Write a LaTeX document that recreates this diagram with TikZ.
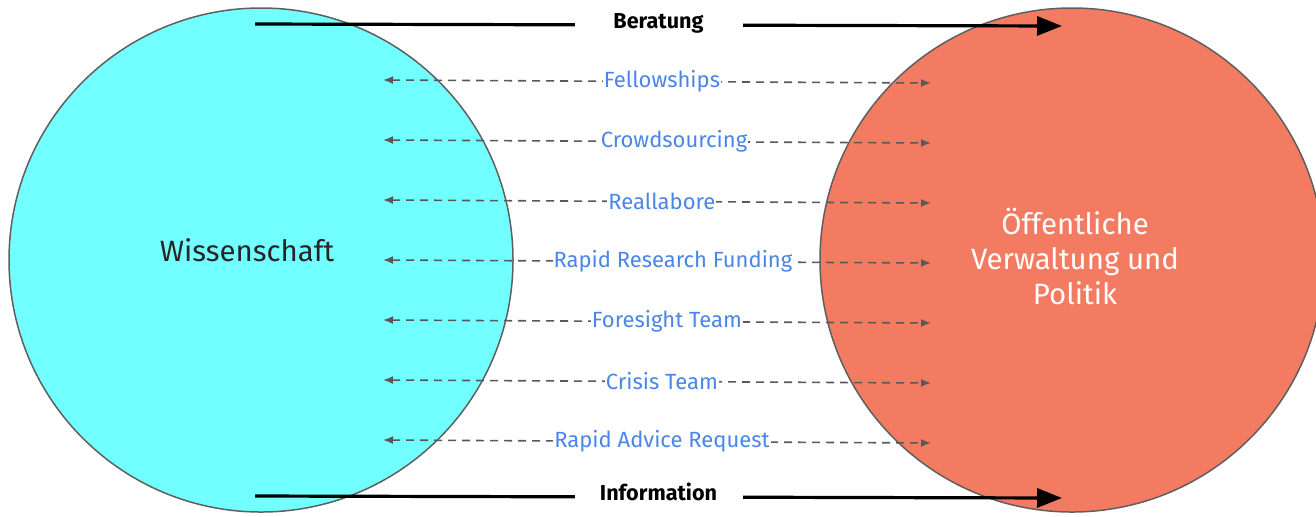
\documentclass[tikz,border=0pt]{standalone}
\usepackage{fontspec}
\setmainfont{Fira Sans}
\usetikzlibrary{arrows.meta}
\definecolor{sciencecyan}{HTML}{72FFFF}
\definecolor{policysalmon}{HTML}{F37B61}
\definecolor{rim}{HTML}{5F5F5F}
\definecolor{linkblue}{HTML}{4A86E8}
\definecolor{dashgray}{HTML}{595959}
\tikzset{
  sphere/.style={circle, draw=rim, line width=0.75pt, minimum size=252pt, inner sep=0pt},
  spheretext/.style={font=\fontsize{14.7}{17.5}\selectfont, align=center},
  mainflow/.style={line width=1.6pt, -{Triangle[length=12.5pt, width=9.5pt]}},
  flowlabel/.style={fill=white, font=\bfseries\fontsize{10.8}{12}\selectfont, minimum width=84pt, inner ysep=1pt},
  exchange/.style={{Latex[length=5pt,width=4pt]}-{Latex[length=5pt,width=4pt]}, draw=dashgray, line width=0.8pt, dash pattern=on 4pt off 3pt},
  formatlabel/.style={fill=white, text=linkblue, font=\fontsize{11}{13}\selectfont, inner xsep=0.5pt, inner ysep=1pt}
}
\begin{document}
\begin{tikzpicture}[x=0.5pt,y=-0.5pt]
\useasboundingbox (0,0) rectangle (1316,516);
\clip (0,0) rectangle (1316,516);

% the two sides
\node[sphere, fill=sciencecyan] (wiss) at (261,260) {};
\node[spheretext, text=black!85] (wisstext) at (247,250) {Wissenschaft};
\node[sphere, fill=policysalmon] (politik) at (1072,260) {};
\node[spheretext, text=white] (politiktext) at (1075,257) {Öffentliche\\Verwaltung und\\Politik};

% main flows
\coordinate (bstart) at (255,24);
\coordinate (bend) at (1062,26);
\draw[mainflow] (bstart) -- node[flowlabel, yshift=1pt] (beratung) {Beratung} (bend);
\coordinate (istart) at (255,496);
\coordinate (iend) at (1062,498);
\draw[mainflow] (istart) -- node[flowlabel, yshift=2.5pt] (information) {Information} (iend);

% exchange formats
\foreach \lbl/\p [count=\i] in {Fellowships/0.509, Crowdsourcing/0.531, Reallabore/0.509, Rapid Research Funding/0.529, Foresight Team/0.518, Crisis Team/0.509, Rapid Advice Request/0.509} {
  \pgfmathsetmacro\yy{20+60*\i}
  \coordinate (l\i) at (383,\yy);
  \coordinate (r\i) at (931,\yy+3);
  \draw[exchange] (l\i) -- node[formatlabel, pos=\p] (fmt\i) {\lbl} (r\i);
}
\end{tikzpicture}
\end{document}
